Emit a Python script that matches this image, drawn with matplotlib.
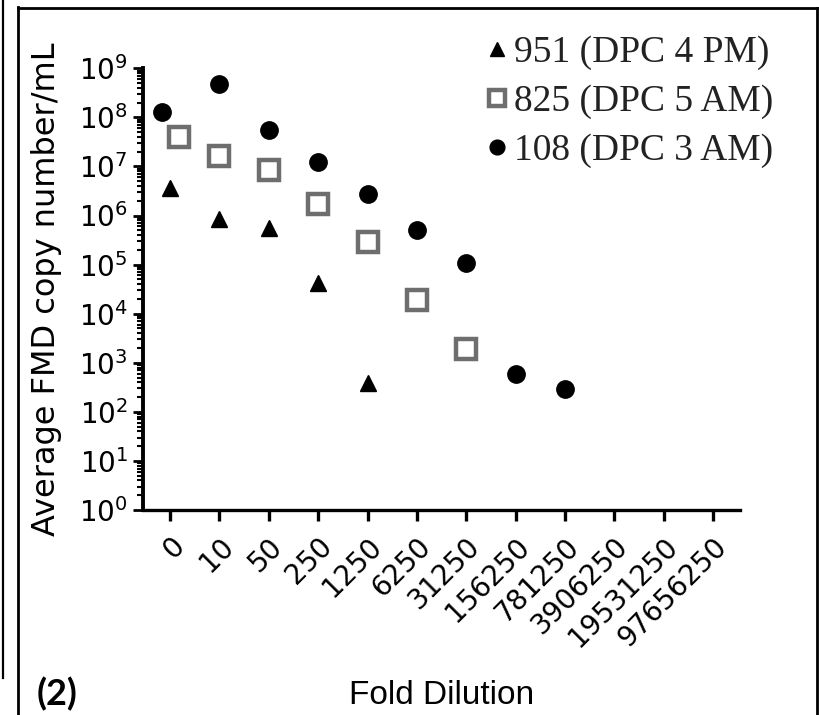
import numpy as np
import matplotlib
matplotlib.use("Agg")
import matplotlib.pyplot as plt
from matplotlib.lines import Line2D
from matplotlib.ticker import LogLocator, LogFormatterMathtext, NullFormatter

# fold dilution categories (x axis)
dilutions = ["0", "10", "50", "250", "1250", "6250", "31250", "156250",
             "781250", "3906250", "19531250", "97656250"]

# copy number per sample
s951_x = [0, 1, 2, 3, 4]
s951_y = [3.6e6, 8.6e5, 5.65e5, 4.2e4, 3.8e2]

s825_x = [0.17, 1, 2, 3, 4, 5, 6]
s825_y = [4.0e7, 1.63e7, 8.5e6, 1.72e6, 2.9e5, 1.9e4, 1.88e3]

s108_x = [-0.16, 1, 2, 3, 4, 5, 6, 7, 8]
s108_y = [1.27e8, 4.7e8, 5.5e7, 1.22e7, 2.75e6, 5.1e5, 1.06e5, 5.9e2, 2.88e2]

labels = ["951 (DPC 4 PM)", "825 (DPC 5 AM)", "108 (DPC 3 AM)"]

plt.rcParams['mathtext.fontset'] = 'custom'
plt.rcParams['mathtext.rm'] = 'Liberation Sans'
plt.rcParams['mathtext.it'] = 'Liberation Sans:italic'
plt.rcParams['mathtext.bf'] = 'Liberation Sans:bold'

fig = plt.figure(figsize=(8.19, 7.15), dpi=100)
ax = fig.add_axes([0.1746, 0.2867, 0.7290, 0.6178])

grey = '#6e6e6e'
ax.plot(s951_x, s951_y, ls='none', marker='^', ms=12, color='black', label=labels[0])
ax.plot(s825_x, s825_y, ls='none', marker='s', ms=14, mfc='white', mec=grey, mew=3.2, label=labels[1])
ax.plot(s108_x, s108_y, ls='none', marker='o', ms=12.5, color='black', label=labels[2])

ax.set_yscale('log')
ax.set_ylim(1, 1e9)
ax.set_xlim(-0.55, 11.55)
ax.yaxis.set_major_locator(LogLocator(base=10, numticks=12))
ax.yaxis.set_minor_locator(LogLocator(base=10, subs=np.arange(2, 10), numticks=12))
ax.yaxis.set_major_formatter(LogFormatterMathtext())
ax.yaxis.set_minor_formatter(NullFormatter())

ax.set_xticks(range(len(dilutions)))
ax.set_xticklabels(dilutions, rotation=45, ha='right', va='top', rotation_mode='anchor',
                   fontsize=20, family='DejaVu Sans')

for s in ('top', 'right'):
    ax.spines[s].set_visible(False)
ax.spines['left'].set_linewidth(2.8)
ax.spines['bottom'].set_linewidth(2.4)
ax.tick_params(axis='y', which='major', length=7, width=2, labelsize=20, pad=4)
ax.tick_params(axis='y', which='minor', length=4, width=1.5)
ax.tick_params(axis='x', which='major', length=8, width=2.4, pad=8)

ax.set_ylabel('Average FMD copy number/mL', fontsize=23, family='DejaVu Sans', labelpad=12)
ax.set_xlabel('Fold Dilution', fontsize=24, family='Liberation Sans')
ax.xaxis.set_label_coords(0.5, -0.385)

leg = ax.legend(loc='upper left', bbox_to_anchor=(0.589, 0.950), bbox_transform=fig.transFigure,
                frameon=False, borderpad=0, borderaxespad=0, handlelength=0.8,
                handletextpad=0.05, labelspacing=0.38, markerscale=0.85,
                prop={'family': 'Liberation Serif', 'size': 27})
for t in leg.get_texts():
    t.set_color('#222222')

fig.text(0.045, 0.013, '(2)', fontsize=26, fontweight='bold', family='Lato')

# panel frame lines
fig.add_artist(Line2D([0.0035, 0.0035], [1.0, 0.052], transform=fig.transFigure, color='black', lw=1.6))
fig.add_artist(Line2D([0.0215, 0.0215], [0.99, 0.0], transform=fig.transFigure, color='black', lw=2.0))
fig.add_artist(Line2D([0.0215, 0.998], [0.989, 0.989], transform=fig.transFigure, color='black', lw=2.0))
fig.add_artist(Line2D([0.998, 0.998], [0.989, 0.0], transform=fig.transFigure, color='black', lw=2.0))

fig.savefig('out.png', dpi=100, facecolor='white')
